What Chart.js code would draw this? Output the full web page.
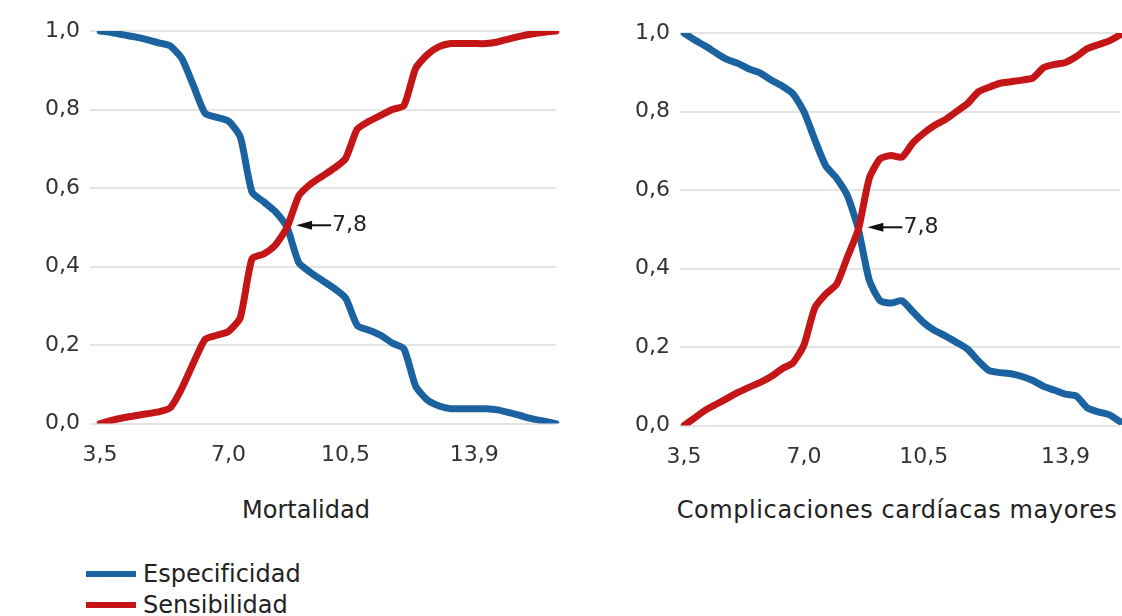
<!DOCTYPE html>
<html lang="es">
<head>
  <meta charset="UTF-8">
  <title>Especificidad y sensibilidad por punto de corte</title>
  <script src="https://cdn.jsdelivr.net/npm/chart.js"></script>
  <style>
    body {
      margin: 0;
      width: 1122px;
      height: 616px;
      position: relative;
      overflow: hidden;
      background: #fff;
      font-family: 'DejaVu Sans', sans-serif;
      color: #222;
    }
    canvas { position: absolute; top: 0; }
    #mortalidad { left: 0; }
    #complicaciones { left: 600px; }
    .titulo {
      position: absolute;
      top: 495px;
      width: 600px;
      text-align: center;
      font-size: 24px;
      line-height: 30px;
      white-space: nowrap;
    }
    #leyenda {
      position: absolute;
      left: 86px;
      top: 558px;
      font-size: 24px;
    }
    #leyenda .item { height: 31px; display: flex; align-items: center; }
    #leyenda .barra { width: 50px; height: 6px; margin-right: 7px; }
  </style>
</head>
<body>
  <canvas id="mortalidad" width="574" height="486"></canvas>
  <canvas id="complicaciones" width="538" height="488"></canvas>
  <div class="titulo" style="left: 6px;">Mortalidad</div>
  <div class="titulo" style="left: 597px; letter-spacing: 0.6px;">Complicaciones cardíacas mayores</div>
  <div id="leyenda"></div>

  <script>
    const series = ['Especificidad', 'Sensibilidad'];
    const colores = ['#1b63a0', '#c41616'];
    const marcasEje = ['3,5', '7,0', '10,5', '13,9'];
    const corte = '7,8';

    // Puntos de corte de la escala (solo algunos llevan etiqueta)
    const cortesMortalidad = [
      '3,5', '', '', '', '', '', '', '', '', '', '',
      '7,0', '', '', '', '',
      '7,8', '', '', '', '',
      '10,5', '', '', '', '', '', '', '', '', '', '',
      '13,9', '', '', '', '', '', '', ''
    ];
    const especificidadMortalidad = [
      1.0, 0.996, 0.99, 0.985, 0.978, 0.97, 0.962, 0.93, 0.86, 0.79,
      0.78, 0.77, 0.73, 0.59, 0.565, 0.54, 0.50, 0.41, 0.385, 0.365,
      0.345, 0.32, 0.25, 0.238, 0.225, 0.205, 0.19, 0.095, 0.06, 0.045,
      0.038, 0.038, 0.038, 0.038, 0.035, 0.028, 0.02, 0.012, 0.006, 0.0
    ];
    const sensibilidadMortalidad = [
      0.0, 0.008, 0.015, 0.02, 0.025, 0.03, 0.04, 0.09, 0.155, 0.215,
      0.225, 0.235, 0.27, 0.42, 0.432, 0.455, 0.50, 0.58, 0.61, 0.63,
      0.65, 0.675, 0.75, 0.77, 0.785, 0.80, 0.81, 0.905, 0.94, 0.96,
      0.968, 0.968, 0.968, 0.968, 0.972, 0.98, 0.987, 0.993, 0.997, 1.0
    ];

    const cortesComplicaciones = [
      '3,5', '', '', '', '', '', '', '', '', '', '',
      '7,0', '', '', '', '',
      '7,8', '', '', '', '', '',
      '10,5', '', '', '', '', '', '', '', '', '', '', '', '',
      '13,9', '', '', '', '', ''
    ];
    const especificidadComplicaciones = [
      1.0, 0.982, 0.966, 0.948, 0.932, 0.922, 0.908, 0.898, 0.88, 0.865,
      0.845, 0.80, 0.728, 0.662, 0.63, 0.585, 0.50, 0.37, 0.318, 0.312,
      0.318, 0.29, 0.262, 0.242, 0.228, 0.212, 0.195, 0.165, 0.14, 0.135,
      0.132, 0.125, 0.115, 0.10, 0.09, 0.08, 0.075, 0.045, 0.035, 0.028,
      0.01
    ];
    const sensibilidadComplicaciones = [
      0.0, 0.02, 0.04, 0.055, 0.07, 0.085, 0.098, 0.11, 0.125, 0.145,
      0.16, 0.205, 0.30, 0.335, 0.36, 0.43, 0.50, 0.63, 0.68, 0.688,
      0.684, 0.72, 0.745, 0.765, 0.78, 0.80, 0.82, 0.85, 0.862, 0.872,
      0.876, 0.88, 0.885, 0.912, 0.92, 0.925, 0.94, 0.96, 0.97, 0.98,
      0.995
    ];

    const fuente = { family: 'DejaVu Sans', size: 22 };

    // Flecha que señala el punto de corte donde se cruzan las curvas
    const flechaCorte = {
      id: 'flechaCorte',
      afterDatasetsDraw(chart) {
        const { ctx, scales: { x, y } } = chart;
        const i = chart.data.labels.indexOf(corte);
        const px = x.getPixelForValue(i) + 9;
        const py = y.getPixelForValue(0.5) - 2;
        ctx.save();
        ctx.fillStyle = '#111';
        ctx.strokeStyle = '#111';
        ctx.lineWidth = 2;
        ctx.beginPath();
        ctx.moveTo(px + 12, py);
        ctx.lineTo(px + 35, py);
        ctx.stroke();
        ctx.beginPath();
        ctx.moveTo(px, py);
        ctx.lineTo(px + 16, py - 4.5);
        ctx.lineTo(px + 16, py + 4.5);
        ctx.closePath();
        ctx.fill();
        ctx.font = '22px "DejaVu Sans"';
        ctx.textBaseline = 'middle';
        ctx.fillStyle = '#222';
        ctx.fillText(corte, px + 36, py);
        ctx.restore();
      }
    };

    function crearGrafico(id, cortes, especificidad, sensibilidad, p) {
      return new Chart(document.getElementById(id), {
        type: 'line',
        data: {
          labels: cortes,
          datasets: [
            { label: series[0], data: especificidad, borderColor: colores[0], backgroundColor: colores[0], order: 1 },
            { label: series[1], data: sensibilidad, borderColor: colores[1], backgroundColor: colores[1], order: 0 }
          ]
        },
        options: {
          responsive: false,
          animation: false,
          layout: { padding: { top: p.arriba, right: 0, bottom: 0, left: 0 } },
          plugins: {
            legend: { display: false },
            tooltip: { enabled: false }
          },
          elements: {
            point: { radius: 0 },
            line: { borderWidth: 7, tension: 0.2, borderJoinStyle: 'round', borderCapStyle: 'round' }
          },
          scales: {
            x: {
              grid: { display: false, drawTicks: false },
              border: { display: false },
              ticks: {
                autoSkip: false,
                maxRotation: 0,
                padding: 18,
                color: '#333',
                font: fuente,
                callback(v) {
                  const t = this.getLabelForValue(v);
                  return marcasEje.includes(t) ? t : '';
                }
              }
            },
            y: {
              min: 0,
              max: 1,
              afterFit(s) { s.width = p.anchoEje; },
              grid: { color: '#e4e4e4', lineWidth: 2, tickLength: p.marca },
              border: { display: false },
              ticks: {
                stepSize: 0.2,
                padding: 10,
                color: '#333',
                font: fuente,
                callback: v => v.toFixed(1).replace('.', ',')
              }
            }
          }
        },
        plugins: [flechaCorte]
      });
    }

    crearGrafico('mortalidad', cortesMortalidad, especificidadMortalidad, sensibilidadMortalidad,
      { arriba: 31, anchoEje: 100, marca: 10 });
    crearGrafico('complicaciones', cortesComplicaciones, especificidadComplicaciones, sensibilidadComplicaciones,
      { arriba: 33, anchoEje: 84, marca: 4 });

    // Leyenda común
    const leyenda = document.getElementById('leyenda');
    series.forEach((nombre, i) => {
      const item = document.createElement('div');
      item.className = 'item';
      item.innerHTML = `<span class="barra" style="background:${colores[i]}"></span>${nombre}`;
      leyenda.appendChild(item);
    });
  </script>
</body>
</html>
